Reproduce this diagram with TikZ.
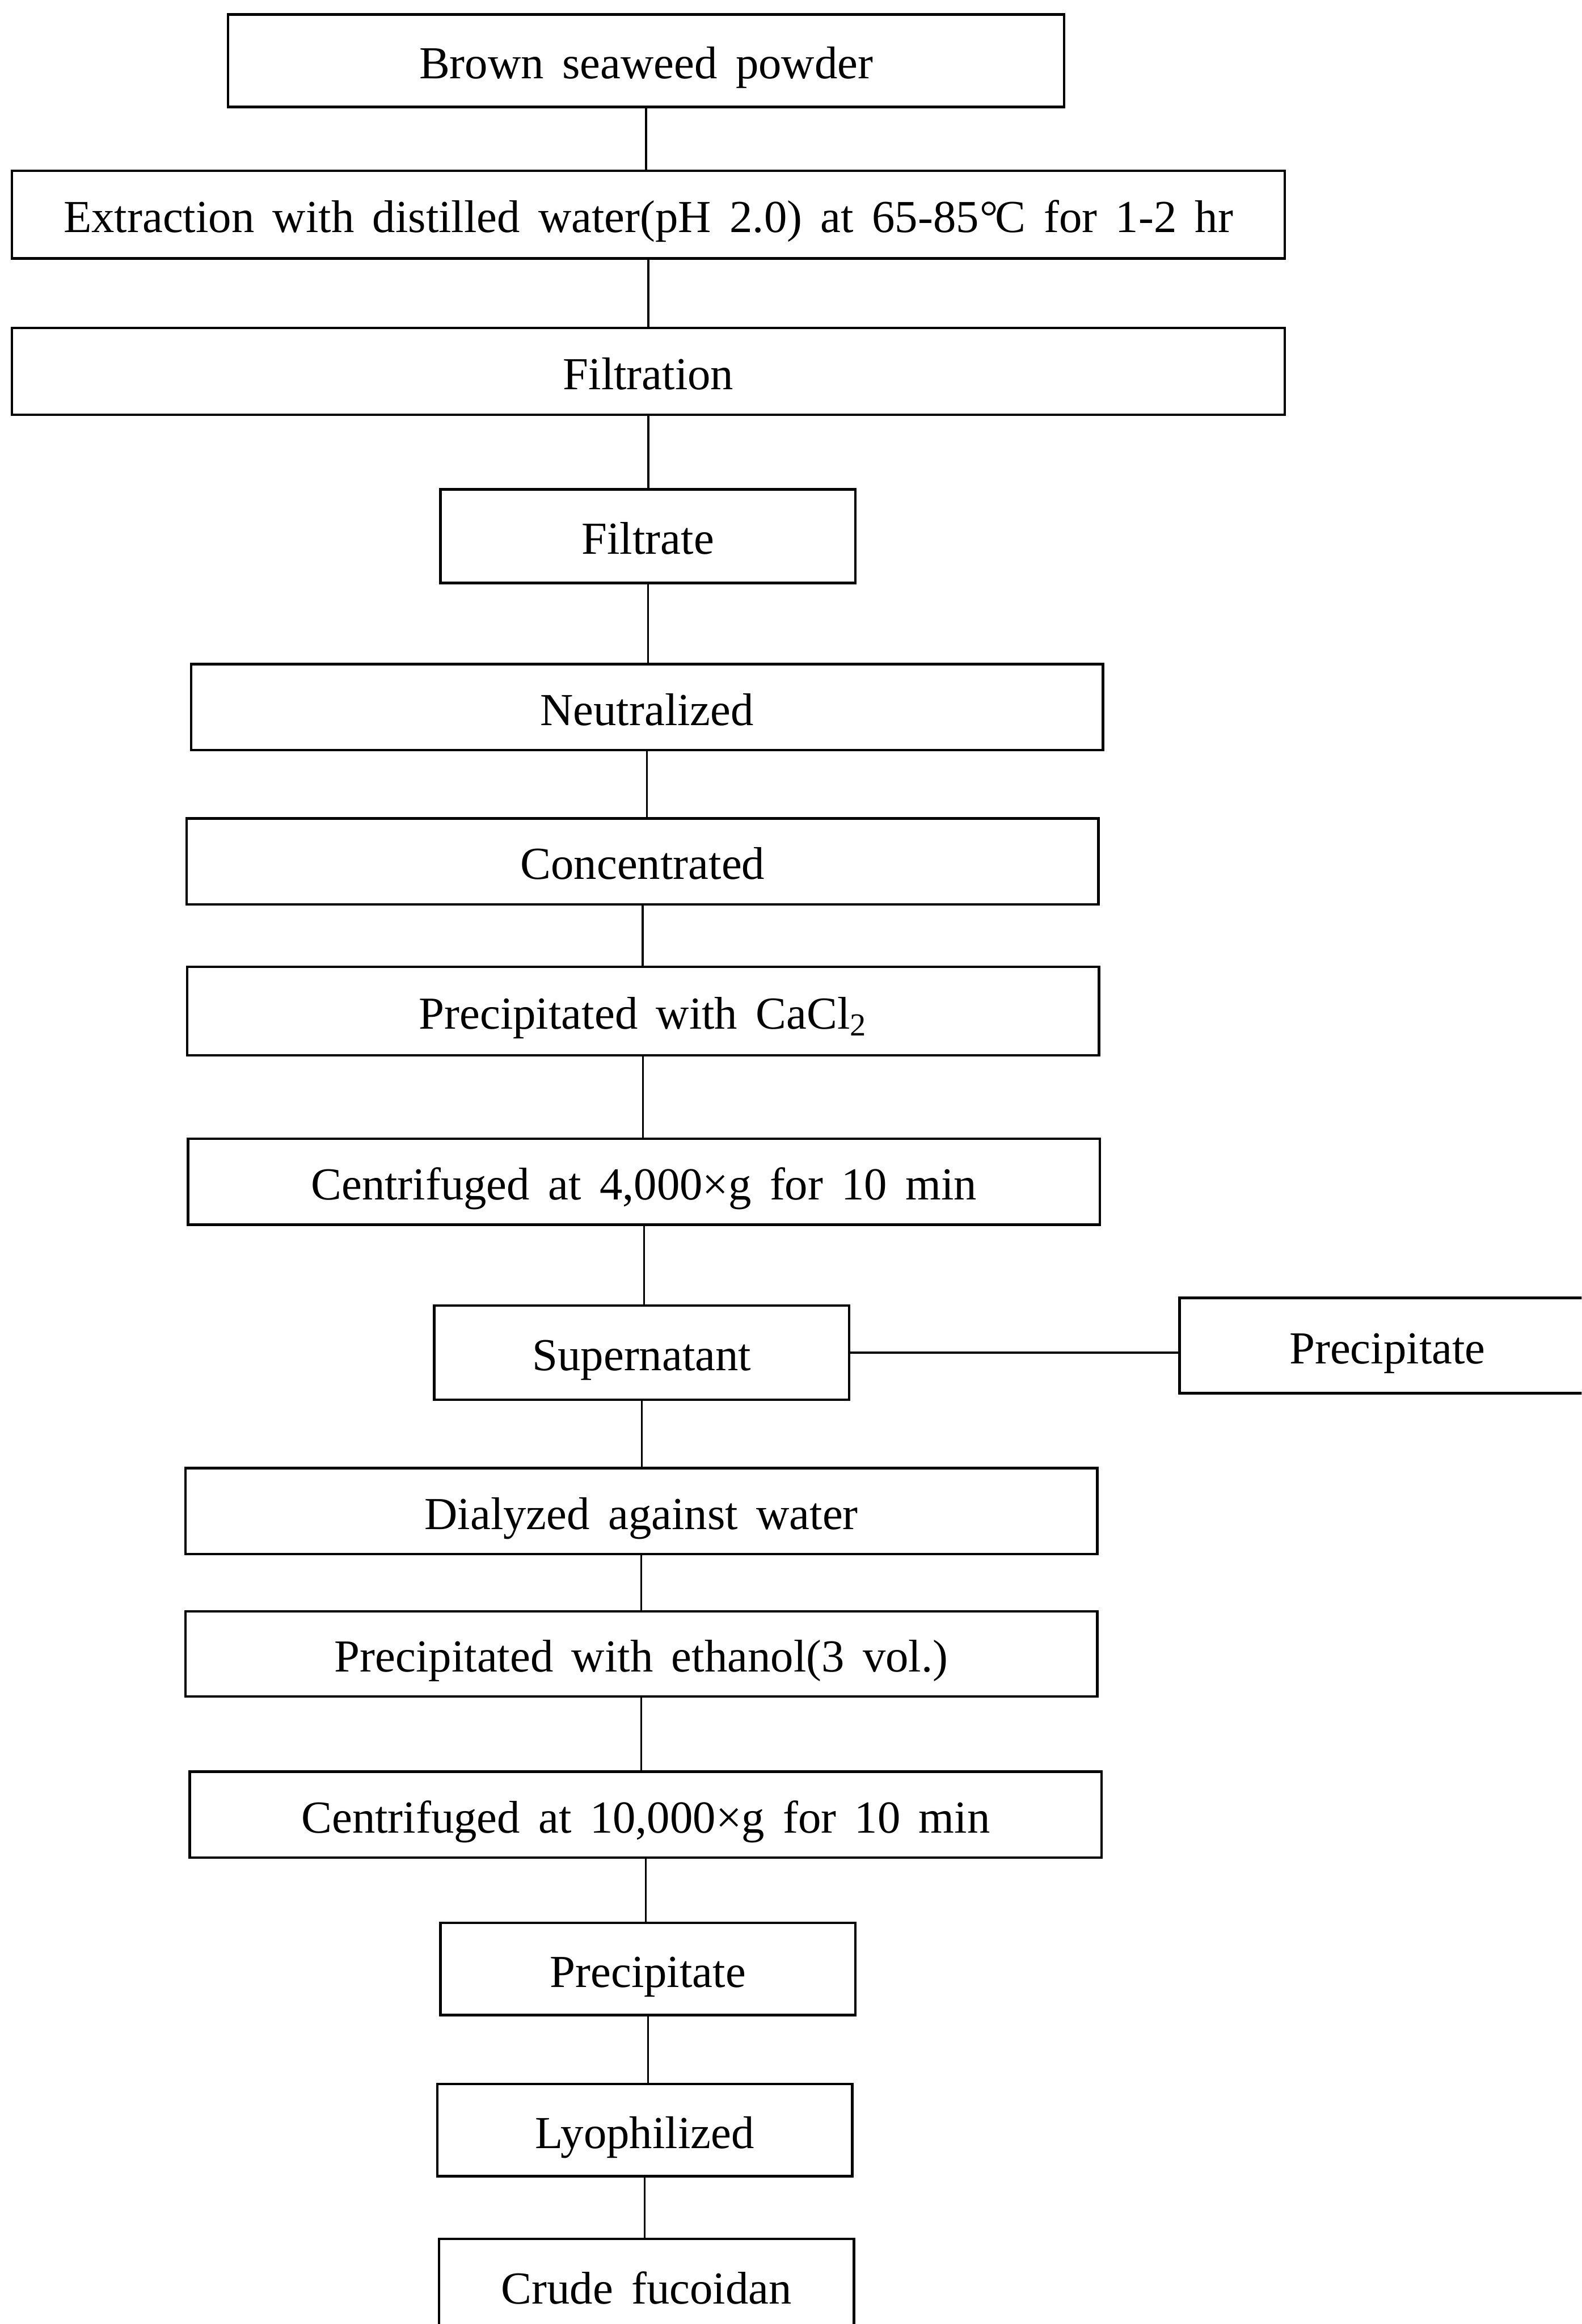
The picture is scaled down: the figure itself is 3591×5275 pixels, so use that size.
\documentclass[tikz,border=0pt]{standalone}
\usepackage{fontspec}
\setmainfont{Liberation Serif}[WordSpace=1.6]
\begin{document}
\begin{tikzpicture}[x=0.2pt, y=-0.2pt,
  stepbox/.style={draw, line width=1.15pt, inner sep=0pt, align=center,
    font=\fontsize{20.8}{25}\selectfont, text height=16.4pt, text depth=0pt},
  wide/.style={stepbox, minimum width=578pt},
  mid/.style={stepbox, minimum width=414pt},
  small/.style={stepbox, minimum width=188.4pt},
  link/.style={line width=0.85pt}]
\useasboundingbox (0,0) rectangle (3591,5275);
\clip (0,0) rectangle (3591,5275);
\fill[white] (0,0) rectangle (3591,5275);

% process steps
\node[stepbox, minimum width=379.6pt, minimum height=42pt] (powder) at (1467,138) {Brown seaweed powder};
\node[wide, minimum height=39.8pt] (extract) at (1472,487) {Extraction with distilled water(pH 2.0) at 65-85\kern0.5pt°\kern-1.5pt C for 1-2 hr};
\node[wide, minimum height=39.4pt] (filt) at (1472,843) {Filtration};
\node[small, minimum height=42.4pt] (filtrate) at (1471,1217) {Filtrate};
\node[mid, minimum height=39pt] (neut) at (1469,1605) {Neutralized};
\node[mid, minimum height=39pt] (conc) at (1459,1955) {Concentrated};
\node[mid, minimum height=40.2pt] (cacl) at (1460,2295) {Precipitated with CaCl\textsubscript{2}};
\node[mid, minimum height=39pt] (cent1) at (1462,2682) {Centrifuged at 4,000×g for 10 min};
\node[small, minimum height=42.8pt] (super) at (1457,3070) {Supernatant};
\node[stepbox, minimum width=188.8pt, minimum height=43.2pt] (waste) at (3150,3054) {Precipitate};
\node[mid, minimum height=39pt] (dial) at (1456,3430) {Dialyzed against water};
\node[mid, minimum height=38.6pt] (etoh) at (1456,3754) {Precipitated with ethanol(3 vol.)};
\node[mid, minimum height=39pt] (cent2) at (1466,4119) {Centrifuged at 10,000×g for 10 min};
\node[small, minimum height=41.8pt] (prec) at (1471,4469) {Precipitate};
\node[small, minimum height=41.8pt] (lyo) at (1464,4835) {Lyophilized};
\node[small, minimum height=42.4pt] (crude) at (1468,5188) {Crude fucoidan};

% connectors
\foreach \a/\b in {powder/extract, extract/filt, filt/filtrate, filtrate/neut,
    neut/conc, conc/cacl, cacl/cent1, cent1/super, super/dial, dial/etoh,
    etoh/cent2, cent2/prec, prec/lyo, lyo/crude}
  \draw[link] (\a.south) -- (\a.south |- \b.north);
\draw[link] (super.east) -- (super.east -| waste.west);
\end{tikzpicture}
\end{document}
